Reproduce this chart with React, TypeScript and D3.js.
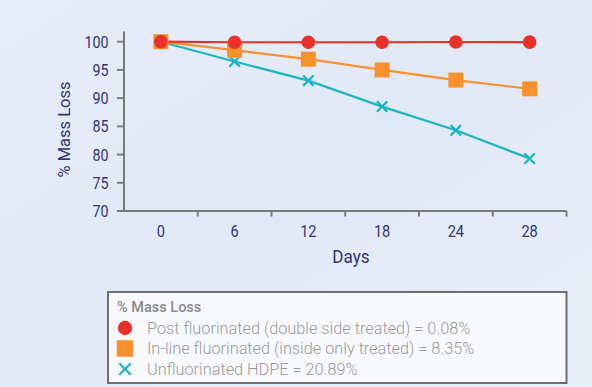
import React from "react";
import * as d3 from "d3";

const days = ["0", "6", "12", "18", "24", "28"];
const postFluorinated = [100, 99.9, 99.9, 99.9, 99.95, 99.92];
const inlineFluorinated = [100, 98.5, 96.9, 95.0, 93.2, 91.65];
const unfluorinated = [100, 96.5, 93.1, 88.5, 84.3, 79.3];
const yTicks = [70, 75, 80, 85, 90, 95, 100];
const legendTitle = "% Mass Loss";
const legendLabels = [
  "Post fluorinated (double side treated) = 0.08%",
  "In-line fluorinated (inside only treated) = 8.35%",
  "Unfluorinated HDPE = 20.89%",
];

const W = 592;
const H = 387;
const RED = "#ea3129";
const ORANGE = "#f7902d";
const TEAL = "#1cb5c4";
const NAVY = "#2f3574";
const AXIS = "#7a7a7a";
const FONT = "Roboto, 'Liberation Sans', Arial, sans-serif";

export default function App() {
  const x = d3.scaleBand<string>().domain(days).range([124, 566.5]).padding(0);
  const y = d3.scaleLinear().domain([70, 100]).range([211, 41.7]);
  const cx = (d: string) => (x(d) as number) + x.bandwidth() / 2;
  const line = d3
    .line<number>()
    .x((_, i) => cx(days[i]))
    .y((v) => y(v));

  const series = [
    { values: unfluorinated, color: TEAL, marker: "x" },
    { values: inlineFluorinated, color: ORANGE, marker: "square" },
    { values: postFluorinated, color: RED, marker: "circle" },
  ];

  const marker = (type: string, color: string, px: number, py: number, key: string | number, size = 1) => {
    if (type === "circle")
      return <circle key={key} cx={px} cy={py} r={6.8 * size} fill={color} />;
    if (type === "square") {
      const s = 15 * size;
      return <rect key={key} x={px - s / 2} y={py - s / 2} width={s} height={s} fill={color} />;
    }
    const h = 5.2 * size;
    return (
      <g key={key} stroke={color} strokeWidth={2.3}>
        <line x1={px - h} y1={py - h} x2={px + h} y2={py + h} />
        <line x1={px - h} y1={py + h} x2={px + h} y2={py - h} />
      </g>
    );
  };

  const xTickPositions = days.map((d) => (x(d) as number) + x.bandwidth());
  const yTop = y(101.8);

  return (
    <svg
      width={W}
      height={H}
      style={{ position: "absolute", left: 0, top: 0 }}
      fontFamily={FONT}
    >
      <defs>
        <linearGradient id="bg" x1="0" y1="0" x2="1" y2="1">
          <stop offset="0" stopColor="#e6edf8" />
          <stop offset="0.5" stopColor="#e2e9f6" />
          <stop offset="1" stopColor="#e9eef8" />
        </linearGradient>
      </defs>
      <rect x={0} y={0} width={W} height={H} fill="url(#bg)" />

      {/* axes */}
      <g stroke={AXIS} strokeWidth={2} fill="none">
        <line x1={124} y1={yTop} x2={124} y2={211} />
        <line x1={117} y1={211} x2={566.5} y2={211} />
        {yTicks.map((t) => (
          <line key={t} x1={117} y1={y(t)} x2={124} y2={y(t)} />
        ))}
        {xTickPositions.map((p, i) => (
          <line key={i} x1={p} y1={211} x2={p} y2={216.5} />
        ))}
      </g>
      {yTicks.map((t) => (
        <text
          key={t}
          transform={`translate(108.5,${y(t)}) scale(0.84,1)`}
          dy="0.36em"
          textAnchor="end"
          fontSize={17}
          fill={NAVY}
        >
          {t}
        </text>
      ))}
      {days.map((d) => (
        <text
          key={d}
          transform={`translate(${cx(d)},237) scale(0.86,1)`}
          textAnchor="middle"
          fontSize={17}
          fill={NAVY}
        >
          {d}
        </text>
      ))}
      <text transform="translate(351,262.5) scale(0.95,1)" textAnchor="middle" fontSize={18} fill={NAVY}>
        Days
      </text>
      <text
        transform={`translate(70,129.5) rotate(-90)`}
        textAnchor="middle"
        fontSize={16.5}
        fill={NAVY}
      >
        % Mass Loss
      </text>

      {/* series */}
      {series.map((s, si) => (
        <g key={si}>
          <path d={line(s.values) as string} fill="none" stroke={s.color} strokeWidth={2.2} />
        </g>
      ))}
      {series.map((s, si) => (
        <g key={"m" + si}>
          {s.values.map((v, i) => marker(s.marker, s.color, cx(days[i]), y(v), i))}
        </g>
      ))}

      {/* legend */}
      <rect x={108} y={292} width={458.5} height={91} fill="#f8f9fd" stroke="#6f6f6f" strokeWidth={2} />
      <text x={117} y={312} fontSize={14.5} fontWeight={500} fill="#8a8a8a">
        {legendTitle}
      </text>
      {legendLabels.map((l, i) => (
        <g key={l}>
          {marker(series[2 - i].marker, series[2 - i].color, 125, 328 + i * 20.5, "lm" + i, i === 0 ? 1.05 : 1.1)}
          <text x={147} y={328 + i * 20.5} dy="0.35em" fontSize={16.3} fontWeight={300} fill="#9a9a9a">
            {l}
          </text>
        </g>
      ))}
    </svg>
  );
}
